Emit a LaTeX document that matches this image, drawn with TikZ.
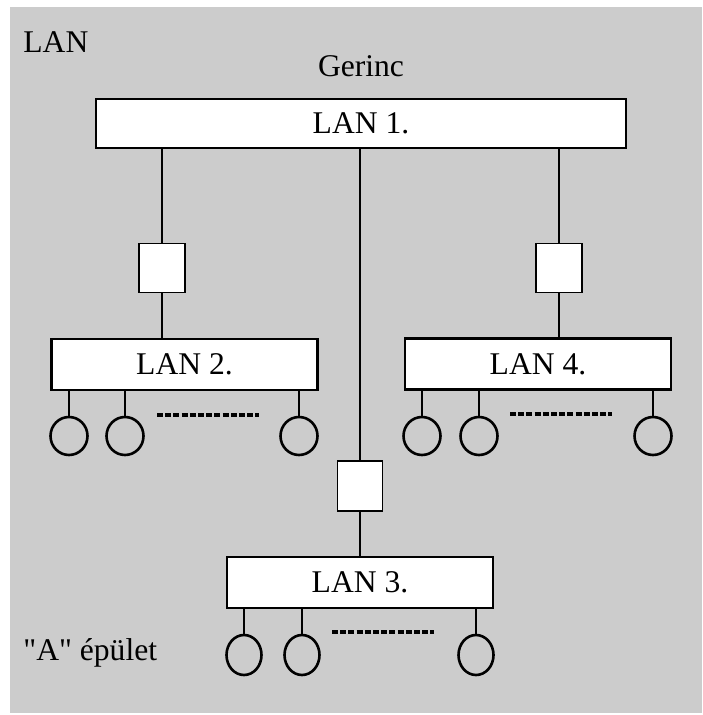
\documentclass[tikz,border=0pt]{standalone}
\usepackage{fontspec}
\setmainfont{Liberation Serif}
\newfontfamily\egyenes{Liberation Serif}
\usetikzlibrary{shapes.geometric}
\definecolor{hatter}{gray}{0.8}
\begin{document}
\begin{tikzpicture}[x=0.5pt, y=-0.5pt]
    \tikzstyle{every node}=[font=\fontsize{15.8}{18}\selectfont]
    \tikzstyle{felirat} = [inner sep=0pt]
    \tikzstyle{lan} = [draw, fill=white, line width=1.4pt, minimum width=133pt, minimum height=25.5pt, inner sep=0pt]
    \tikzstyle{bridge} = [draw, fill=white, line width=0.8pt, minimum width=23pt, minimum height=24.5pt, inner sep=0pt]
    \tikzstyle{host} = [draw, ellipse, line width=1.3pt, minimum width=18.5pt, minimum height=19pt, inner sep=0pt]
    \tikzstyle{wire} = [line width=1.4pt]
    \tikzstyle{dots} = [line width=1.6pt, dash pattern=on 3pt off 1.1pt]

    \useasboundingbox (0,0) rectangle (702,715);
    \fill[hatter] (10,7) rectangle (702,713);

    \node[felirat, anchor=base west] (cim) at (23,53) {LAN};
    \node[felirat, anchor=base] (gerinc) at (361,77) {Gerinc};
    \node[felirat, anchor=base west] (epulet) at (23,660) {{\egyenes"A"} épület};

    % the LAN segments, backbone on top
    \node[lan, minimum width=265pt, minimum height=24.5pt] (lan1) at (361,123.5) {LAN 1.};
    \node[lan] (lan2) at (184.5,364.5) {LAN 2.};
    \node[lan] (lan4) at (538,364) {LAN 4.};
    \node[lan] (lan3) at (360,582.5) {LAN 3.};

    % bridges between backbone and segments
    \node[bridge] (b2) at (162,268) {};
    \node[bridge] (b4) at (559,268) {};
    \node[bridge, minimum width=22.5pt, minimum height=25pt] (b3) at (360,486) {};

    \draw[wire] (lan1.south -| b2) -- (b2.north);
    \draw[wire] (b2.south) -- (lan2.north -| b2);
    \draw[wire] (lan1.south -| b4) -- (b4.north);
    \draw[wire] (b4.south) -- (lan4.north -| b4);
    \draw[wire] (lan1.south -| b3) -- (b3.north);
    \draw[wire] (b3.south) -- (lan3.north -| b3);

    % stations
    \foreach \x [count=\i] in {69,125,299} {
        \node[host] (h2\i) at (\x,436) {};
        \draw[wire] (lan2.south -| h2\i) -- (h2\i.north);
    }
    \foreach \x [count=\i] in {422,479,653} {
        \node[host] (h4\i) at (\x,436) {};
        \draw[wire] (lan4.south -| h4\i) -- (h4\i.north);
    }
    \foreach \x [count=\i] in {244,302,476} {
        \node[host, minimum width=17.5pt, minimum height=20pt] (h3\i) at (\x,655) {};
        \draw[wire] (lan3.south -| h3\i) -- (h3\i.north);
    }

    \draw[dots] (157,415) -- (259,415);
    \draw[dots] (510,414) -- (612,414);
    \draw[dots] (332,632) -- (434,632);
\end{tikzpicture}
\end{document}
